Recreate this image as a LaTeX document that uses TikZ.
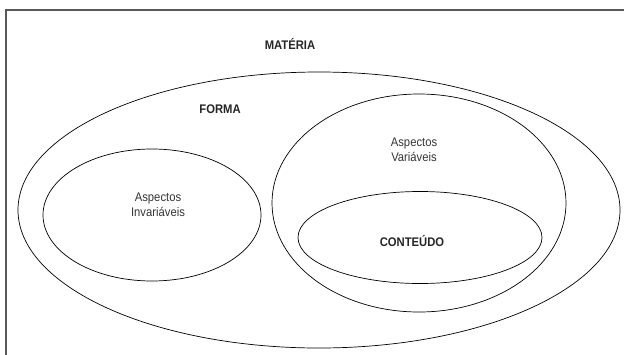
\documentclass[tikz,border=0pt]{standalone}
\usepackage{fontspec}
\setmainfont{Liberation Sans}[FakeStretch=0.9]
\begin{document}
\begin{tikzpicture}[x = 1pt, y = -1pt, line width = .7pt,
  caption/.style = {font = \fontsize{12.5}{15}\selectfont, text = black!80,
    align = center},
  setname/.style = {font = \bfseries\fontsize{12.5}{15}\selectfont,
    text = black!85}]
  \useasboundingbox (0, 0) rectangle (624, 354);
  \draw[line width = 1.2pt, black!65] (6, 360) -- (6, 10) -- (630, 10);

  \draw (319, 210) ellipse[x radius = 301, y radius = 138];
  \draw (152, 215) ellipse[x radius = 109, y radius = 66];
  \draw (419, 203) ellipse[x radius = 147, y radius = 109];
  \draw (420, 237.5) ellipse[x radius = 122, y radius = 46];

  \node[setname] (materia) at (290, 44) {MATÉRIA};
  \node[setname] (forma) at (220, 109) {FORMA};
  \node[setname] (conteudo) at (412, 241) {CONTEÚDO};

  \node[caption] (invariaveis) at (158, 205) {Aspectos\\ Invariáveis};
  \node[caption] (variaveis) at (414, 150) {Aspectos\\ Variáveis};
\end{tikzpicture}
\end{document}
